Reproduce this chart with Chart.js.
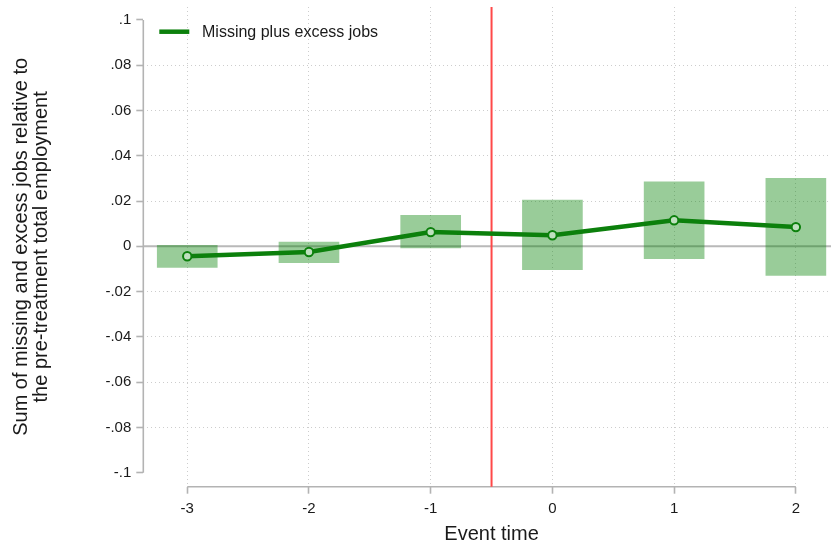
<!DOCTYPE html>
<html>
<head>
<meta charset="utf-8">
<script src="https://cdn.jsdelivr.net/npm/chart.js@4.4.1/dist/chart.umd.min.js"></script>
<style>
  html, body { margin: 0; padding: 0; background: #ffffff; }
  #frame { width: 831px; height: 546px; overflow: hidden; position: relative; }
  #c { display: block; }
</style>
</head>
<body>
<div id="frame"><canvas id="c" width="846" height="546"></canvas></div>
<script>
// Event-study estimates: missing plus excess jobs, relative to pre-treatment employment
const eventTimes   = [-3, -2, -1, 0, 1, 2];
const xTickLabels  = ['-3', '-2', '-1', '0', '1', '2'];
const estimate     = [-0.0044, -0.0025, 0.0063, 0.0049, 0.0115, 0.0085];
const ciLow        = [-0.0093, -0.0072, -0.0007, -0.0103, -0.0054, -0.0128];
const ciHigh       = [0.0004, 0.0019, 0.0137, 0.0204, 0.0285, 0.0300];
const yTickValues  = [0.1, 0.08, 0.06, 0.04, 0.02, 0, -0.02, -0.04, -0.06, -0.08, -0.1];
const yTickLabels  = ['.1', '.08', '.06', '.04', '.02', '0', '-.02', '-.04', '-.06', '-.08', '-.1'];
const treatmentAt  = -0.5;
const seriesLabel  = 'Missing plus excess jobs';
const yTitleLines  = ['Sum of missing and excess jobs relative to', 'the pre-treatment total employment'];
const xTitleText   = 'Event time';

const FONT = "'Liberation Sans', Arial, Helvetica, sans-serif";
const TEXT = '#1a1a1a';
const AXIS = '#b3b3b3';
const GRID = '#cdcdcd';
const LINE_GREEN = 'rgb(12,128,12)';
const BAND_GREEN = 'rgba(0,128,0,0.4)';

// Reference lines (zero line, treatment line) and the Stata-style axis lines
const refLines = {
  id: 'refLines',
  beforeDatasetsDraw(chart) {
    const { ctx, chartArea: a, scales: { x, y } } = chart;
    ctx.save();
    // zero line
    const y0 = y.getPixelForValue(0);
    ctx.strokeStyle = '#b9b9b9';
    ctx.lineWidth = 2;
    ctx.beginPath(); ctx.moveTo(a.left, y0); ctx.lineTo(a.right, y0); ctx.stroke();
    // axis lines spanning first to last tick only
    ctx.strokeStyle = AXIS;
    ctx.lineWidth = 1.6;
    ctx.beginPath();
    ctx.moveTo(a.left, y.getPixelForValue(yTickValues[0]));
    ctx.lineTo(a.left, y.getPixelForValue(yTickValues[yTickValues.length - 1]));
    ctx.moveTo(x.getPixelForValue(eventTimes[0]), a.bottom);
    ctx.lineTo(x.getPixelForValue(eventTimes[eventTimes.length - 1]), a.bottom);
    ctx.stroke();
    // treatment line
    const xt = x.getPixelForValue(treatmentAt);
    ctx.strokeStyle = 'rgb(255,72,72)';
    ctx.lineWidth = 2;
    ctx.beginPath(); ctx.moveTo(xt, a.top); ctx.lineTo(xt, a.bottom); ctx.stroke();
    ctx.restore();
  }
};

// Legend key drawn inside the plot region, top-left
const insideLegend = {
  id: 'insideLegend',
  afterDraw(chart) {
    const { ctx, chartArea: a } = chart;
    const ds = chart.data.datasets[0];
    const x0 = a.left + 16, yMid = a.top + 24.7;
    ctx.save();
    ctx.strokeStyle = ds.borderColor;
    ctx.lineWidth = 4.5;
    ctx.beginPath(); ctx.moveTo(x0, yMid); ctx.lineTo(x0 + 30, yMid); ctx.stroke();
    ctx.fillStyle = TEXT;
    ctx.font = '16px ' + FONT;
    ctx.textBaseline = 'alphabetic';
    ctx.textAlign = 'left';
    ctx.fillText(ds.label, x0 + 42.7, yMid + 5.7);
    ctx.restore();
  }
};

const noLabelOverhang = s => {
  s.paddingTop = 0; s.paddingBottom = 0; s.paddingLeft = 0; s.paddingRight = 0;
};

new Chart(document.getElementById('c'), {
  type: 'bar',
  data: {
    datasets: [
      {
        type: 'line',
        label: seriesLabel,
        data: eventTimes.map((t, i) => ({ x: t, y: estimate[i] })),
        borderColor: LINE_GREEN,
        borderWidth: 4.5,
        tension: 0,
        pointRadius: 4.2,
        pointBorderWidth: 2,
        pointBorderColor: LINE_GREEN,
        pointBackgroundColor: '#bfe0bf',
        order: 0
      },
      {
        type: 'bar',
        label: '95% CI',
        data: eventTimes.map((t, i) => ({ x: t, y: [ciLow[i], ciHigh[i]] })),
        backgroundColor: BAND_GREEN,
        borderWidth: 0,
        barThickness: 60,
        grouped: false,
        order: 1
      }
    ]
  },
  options: {
    responsive: false,
    devicePixelRatio: 1,
    animation: false,
    layout: { padding: { top: 7, right: 0.7, bottom: 0, left: 0 } },
    plugins: {
      legend: { display: false },
      tooltip: { enabled: false }
    },
    scales: {
      x: {
        type: 'linear',
        min: -3.361,
        max: 2.361,
        offset: false,
        afterBuildTicks: s => { s.ticks = eventTimes.map(v => ({ value: v })); },
        afterFit: s => { s.height = 59.3; noLabelOverhang(s); },
        grid: {
          offset: false,
          color: GRID,
          lineWidth: 1,
          tickLength: 7,
          tickColor: AXIS,
          tickWidth: 1.6,
          tickBorderDash: []
        },
        border: { display: false, dash: [1, 3] },
        ticks: {
          padding: 6,
          maxRotation: 0,
          autoSkip: false,
          color: TEXT,
          font: { family: FONT, size: 15 },
          callback: (v, i) => xTickLabels[i]
        },
        title: {
          display: true,
          text: xTitleText,
          color: TEXT,
          font: { family: FONT, size: 20, lineHeight: 1.2 },
          padding: { top: 0, bottom: 0 }
        }
      },
      y: {
        type: 'linear',
        min: -0.10619,
        max: 0.10574,
        afterBuildTicks: s => { s.ticks = yTickValues.map(v => ({ value: v })); },
        afterFit: s => { s.width = 143.3; noLabelOverhang(s); },
        grid: {
          color: c => (c.tick && (c.tick.value === 0 || Math.abs(c.tick.value) > 0.099)) ? 'rgba(0,0,0,0)' : GRID,
          lineWidth: 1,
          tickLength: 7,
          tickColor: AXIS,
          tickWidth: 1.6,
          tickBorderDash: []
        },
        border: { display: false, dash: [1, 3] },
        ticks: {
          padding: 5,
          autoSkip: false,
          color: TEXT,
          font: { family: FONT, size: 15 },
          callback: (v, i) => yTickLabels[i]
        },
        title: {
          display: true,
          text: yTitleLines,
          color: TEXT,
          font: { family: FONT, size: 20, lineHeight: '19.5px' },
          padding: { top: 12, bottom: 0 }
        }
      }
    }
  },
  plugins: [refLines, insideLegend]
});
</script>
</body>
</html>
